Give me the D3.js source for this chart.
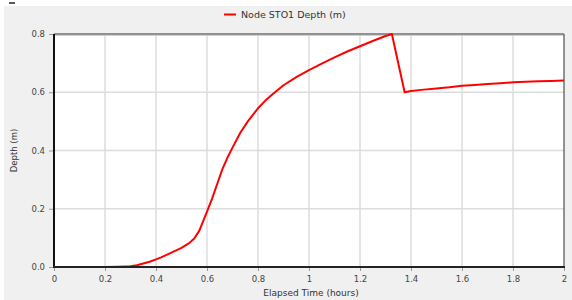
<!DOCTYPE html>
<html><head><meta charset="utf-8">
<script src="https://cdn.jsdelivr.net/npm/d3@7"></script>
<style>html,body{margin:0;padding:0;background:#fff;}svg{display:block;}</style>
</head><body>
<script>
const hours = [0, 0.05, 0.1, 0.15, 0.2, 0.25, 0.28, 0.3, 0.325, 0.35, 0.375, 0.4, 0.42, 0.45, 0.5, 0.53, 0.55, 0.57, 0.6, 0.62, 0.64, 0.66, 0.68, 0.7, 0.73, 0.76, 0.8, 0.825, 0.85, 0.875, 0.9, 0.95, 1.0, 1.05, 1.1, 1.15, 1.2, 1.25, 1.3, 1.325, 1.375, 1.4, 1.45, 1.5, 1.55, 1.6, 1.65, 1.7, 1.75, 1.8, 1.85, 1.9, 1.95, 2.0];
const depth = [0, 0, 0, 0, 0, 0.001, 0.002, 0.003, 0.006, 0.012, 0.018, 0.026, 0.033, 0.045, 0.066, 0.082, 0.098, 0.125, 0.19, 0.235, 0.285, 0.335, 0.375, 0.41, 0.46, 0.5, 0.545, 0.568, 0.588, 0.606, 0.624, 0.652, 0.676, 0.698, 0.72, 0.74, 0.758, 0.776, 0.793, 0.8, 0.6, 0.604, 0.609, 0.613, 0.617, 0.622, 0.625, 0.628, 0.631, 0.634, 0.636, 0.638, 0.639, 0.64];
const xTicks = [0, 0.2, 0.4, 0.6, 0.8, 1, 1.2, 1.4, 1.6, 1.8, 2];
const yTicks = [0, 0.2, 0.4, 0.6, 0.8];
const seriesName = "Node STO1 Depth (m)";
const xTitle = "Elapsed Time (hours)";
const yTitle = "Depth (m)";

const W = 572, H = 300;
const L = 54, R = 564, T = 34, B = 267;
const font = "DejaVu Sans, Verdana, sans-serif";
const svg = d3.select("body").append("svg").attr("width", W).attr("height", H);

svg.append("rect").attr("x", 4).attr("y", 6).attr("width", W - 4).attr("height", H - 6).attr("fill", "#f0f0f0");
svg.append("line").attr("x1", 9).attr("x2", 15).attr("y1", 3).attr("y2", 3).attr("stroke", "#222").attr("stroke-width", 1.5);

const x = d3.scaleLinear().domain([0, 2]).range([L, R]);
const y = d3.scaleLinear().domain([0, 0.8]).range([B, T]);

svg.append("rect").attr("x", L).attr("y", T).attr("width", R - L).attr("height", B - T).attr("fill", "#fff");

// gridlines
const g = svg.append("g");
g.selectAll(".vx").data(xTicks.slice(1, -1)).enter().append("line")
  .attr("x1", d => x(d)).attr("x2", d => x(d)).attr("y1", T).attr("y2", B)
  .attr("stroke", "#dcdcdc").attr("stroke-width", 1.5);
g.selectAll(".hy").data(yTicks.slice(1, -1)).enter().append("line")
  .attr("x1", L).attr("x2", R).attr("y1", d => y(d)).attr("y2", d => y(d))
  .attr("stroke", "#dcdcdc").attr("stroke-width", 1.5);

// top/right border
svg.append("line").attr("x1", L).attr("x2", R + 1).attr("y1", T + 1.5).attr("y2", T + 1.5).attr("stroke", "#d0d0d0").attr("stroke-width", 1);
svg.append("line").attr("x1", L).attr("x2", R).attr("y1", T).attr("y2", T).attr("stroke", "#707070").attr("stroke-width", 1.5);
svg.append("line").attr("x1", R).attr("x2", R).attr("y1", T).attr("y2", B).attr("stroke", "#707070").attr("stroke-width", 1.5);

// line
const line = d3.line().x((d, i) => x(hours[i])).y(d => y(d));
svg.append("path").datum(depth).attr("d", line).attr("fill", "none")
  .attr("stroke", "#ff0000").attr("stroke-width", 2).attr("stroke-linejoin", "round");

// axes
const xAxis = d3.axisBottom(x).tickValues(xTicks).tickSize(4).tickPadding(5).tickFormat(d => d3.format("")(+d.toFixed(1)));
const gx = svg.append("g").attr("transform", `translate(0,${B})`).call(xAxis);
const yAxis = d3.axisLeft(y).tickValues(yTicks).tickSize(5).tickPadding(4).tickFormat(d3.format(".1f"));
const gy = svg.append("g").attr("transform", `translate(${L},0)`).call(yAxis);
[gx, gy].forEach(a => {
  a.select(".domain").remove();
  a.selectAll(".tick line").attr("stroke", "#999");
  a.selectAll(".tick text").attr("fill", "#444").style("font-family", font).style("font-size", "8.5px");
});
svg.append("line").attr("x1", L).attr("x2", L).attr("y1", T).attr("y2", B + 1).attr("stroke", "#111").attr("stroke-width", 2);
svg.append("line").attr("x1", L - 1).attr("x2", R + 1).attr("y1", B).attr("y2", B).attr("stroke", "#222").attr("stroke-width", 2);

// titles
svg.append("text").attr("x", 311).attr("y", 296).attr("text-anchor", "middle")
  .style("font-family", font).style("font-size", "9px").attr("fill", "#333").text(xTitle);
svg.append("text").attr("transform", `translate(17,${(T + B) / 2}) rotate(-90)`).attr("text-anchor", "middle")
  .style("font-family", font).style("font-size", "8.5px").attr("fill", "#333").text(yTitle);

// legend
svg.append("line").attr("x1", 224).attr("x2", 236).attr("y1", 14.5).attr("y2", 14.5).attr("stroke", "#ff0000").attr("stroke-width", 2);
svg.append("text").attr("x", 241).attr("y", 18).style("font-family", font).style("font-size", "9.5px").attr("fill", "#333").text(seriesName);
</script>
</body></html>
